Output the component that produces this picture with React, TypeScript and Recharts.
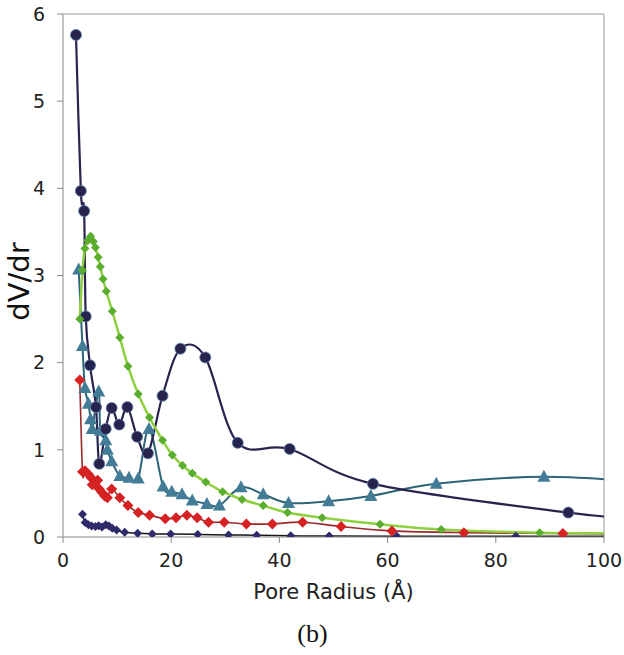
import React from 'react';
import { LineChart, Line, XAxis, YAxis, ReferenceLine, Label } from 'recharts';

// ---- Data (Pore radius in Å, dV/dr) ----
const circleX = [2.4, 3.3, 3.9, 4.2, 5.0, 6.1, 6.7, 7.9, 9.0, 10.4, 11.9, 13.7, 15.7, 18.4, 21.7, 26.3, 32.3, 41.9, 57.3, 93.4, 110];
const circleY = [5.76, 3.97, 3.74, 2.53, 1.97, 1.49, 0.84, 1.24, 1.48, 1.29, 1.49, 1.15, 0.96, 1.62, 2.16, 2.06, 1.08, 1.01, 0.61, 0.28, 0.19];

const triangleX = [2.9, 3.6, 4.05, 4.7, 5.1, 5.4, 6.6, 6.9, 7.9, 8.2, 9.0, 10.5, 12.2, 13.9, 15.9, 18.5, 20.1, 22.0, 23.9, 26.6, 28.9, 32.9, 37.0, 41.7, 49.1, 56.9, 69.0, 88.9, 110];
const triangleY = [3.07, 2.19, 1.71, 1.53, 1.35, 1.24, 1.67, 1.22, 1.11, 1.0, 0.87, 0.70, 0.68, 0.67, 1.24, 0.58, 0.52, 0.49, 0.42, 0.38, 0.36, 0.57, 0.49, 0.39, 0.41, 0.47, 0.61, 0.69, 0.62];

const greenX = [3.1, 3.6, 4.05, 4.55, 5.1, 5.6, 6.0, 6.5, 6.9, 7.4, 8.0, 9.1, 10.5, 12.0, 13.9, 16.0, 18.4, 20.2, 22.1, 23.9, 26.4, 29.5, 33.1, 37.0, 41.5, 47.9, 58.6, 69.9, 88.1, 110];
const greenY = [2.50, 3.06, 3.31, 3.40, 3.45, 3.39, 3.32, 3.21, 3.10, 2.96, 2.82, 2.59, 2.29, 1.96, 1.64, 1.37, 1.11, 0.94, 0.82, 0.73, 0.63, 0.52, 0.43, 0.36, 0.28, 0.22, 0.145, 0.086, 0.05, 0.04];

const redX = [3.1, 3.6, 4.05, 4.7, 5.2, 5.4, 5.9, 6.4, 6.7, 7.2, 7.7, 8.2, 9.0, 10.5, 12.0, 13.9, 16.0, 18.9, 20.9, 22.9, 24.8, 26.9, 29.8, 33.9, 38.7, 44.3, 51.4, 60.8, 74.1, 92.4, 110];
const redY = [1.80, 0.75, 0.76, 0.72, 0.68, 0.60, 0.61, 0.65, 0.55, 0.51, 0.47, 0.45, 0.55, 0.45, 0.36, 0.28, 0.25, 0.21, 0.22, 0.25, 0.22, 0.17, 0.17, 0.15, 0.15, 0.17, 0.12, 0.07, 0.05, 0.04, 0.03];

const navyDiamondX = [3.6, 4.1, 4.7, 5.3, 6.0, 6.6, 7.2, 7.9, 8.5, 9.1, 9.9, 11.4, 13.8, 16.5, 19.9, 24.9, 30.6, 35.8, 42.1, 49.2, 61.7, 83.7, 110];
const navyDiamondY = [0.26, 0.165, 0.14, 0.125, 0.12, 0.13, 0.115, 0.14, 0.125, 0.10, 0.08, 0.055, 0.042, 0.035, 0.033, 0.03, 0.023, 0.02, 0.013, 0.012, 0.01, 0.01, 0.01];

const xTicks = [0, 20, 40, 60, 80, 100];
const yTicks = [0, 1, 2, 3, 4, 5, 6];

const toRows = (xs: number[], ys: number[]) => xs.map((x, i) => ({ x, y: ys[i] }));
const circleData = toRows(circleX, circleY);
const triangleData = toRows(triangleX, triangleY);
const greenData = toRows(greenX, greenY);
const redData = toRows(redX, redY);
const navyDiamondData = toRows(navyDiamondX, navyDiamondY);

// Smooth curve (Catmull-Rom style, similar to Excel smoothed lines)
const smoothCurve = (context: any) => {
  let xs: number[] = [];
  let ys: number[] = [];
  return {
    areaStart() {},
    areaEnd() {},
    lineStart() {
      xs = [];
      ys = [];
    },
    lineEnd() {
      const n = xs.length;
      if (n === 0) return;
      context.moveTo(xs[0], ys[0]);
      if (n === 1) return;
      const k = 1 / 6;
      for (let i = 0; i < n - 1; i++) {
        const i0 = Math.max(i - 1, 0);
        const i3 = Math.min(i + 2, n - 1);
        context.bezierCurveTo(
          xs[i] + k * (xs[i + 1] - xs[i0]),
          ys[i] + k * (ys[i + 1] - ys[i0]),
          xs[i + 1] - k * (xs[i3] - xs[i]),
          ys[i + 1] - k * (ys[i3] - ys[i]),
          xs[i + 1],
          ys[i + 1]
        );
      }
    },
    point(x: number, y: number) {
      xs.push(+x);
      ys.push(+y);
    },
  };
};

const hidden = (p: any) => !p || p.cx == null || p.cy == null || (p.payload && p.payload.x > 100);

const circleDot = (p: any) =>
  hidden(p) ? <g key={`c-${p.index}`} /> : (
    <circle key={`c-${p.index}`} cx={p.cx} cy={p.cy} r={5.5} fill="#27234f" stroke="#5a7da0" strokeWidth={0.8} />
  );

const triangleDot = (p: any) =>
  hidden(p) ? <g key={`t-${p.index}`} /> : (
    <path
      key={`t-${p.index}`}
      d={`M${p.cx},${p.cy - 7} L${p.cx + 6.5},${p.cy + 5} L${p.cx - 6.5},${p.cy + 5} Z`}
      fill="#437c97"
    />
  );

const diamond = (color: string, h: number, prefix: string) => (p: any) =>
  hidden(p) ? <g key={`${prefix}-${p.index}`} /> : (
    <path
      key={`${prefix}-${p.index}`}
      d={`M${p.cx},${p.cy - h} L${p.cx + h},${p.cy} L${p.cx},${p.cy + h} L${p.cx - h},${p.cy} Z`}
      fill={color}
    />
  );

const fontFamily = '"DejaVu Sans", Verdana, sans-serif';

export default function App() {
  return (
    <div style={{ position: 'absolute', left: 0, top: 0, width: 624, height: 655, background: '#fff' }}>
      <LineChart width={624} height={655} margin={{ top: 14, right: 20, bottom: 78, left: 0 }}>
        <XAxis
          type="number"
          dataKey="x"
          domain={[0, 100]}
          allowDataOverflow
          ticks={xTicks}
          tickSize={6}
          tickMargin={11}
          height={40}
          stroke="#8a8a8a"
          tick={{ fill: '#222', fontSize: 19, fontFamily }}
        >
          <Label
            content={(props: any) => {
              const vb = props.viewBox || { x: 63, y: 537, width: 541 };
              return (
                <g>
                  <text
                    x={vb.x + vb.width / 2}
                    y={vb.y + 62}
                    textAnchor="middle"
                    fontSize={21}
                    fontFamily={fontFamily}
                    fill="#222"
                  >
                    Pore Radius (Å)
                  </text>
                  <text
                    x={vb.x + vb.width / 2 - 21}
                    y={vb.y + 105}
                    textAnchor="middle"
                    fontSize={26}
                    fontFamily='"Liberation Serif", "Times New Roman", serif'
                    fill="#111"
                  >
                    (b)
                  </text>
                </g>
              );
            }}
          />
        </XAxis>
        <YAxis
          type="number"
          dataKey="y"
          domain={[0, 6]}
          allowDataOverflow
          ticks={yTicks}
          tickSize={6}
          tickMargin={12}
          width={63}
          stroke="#8a8a8a"
          tick={{ fill: '#222', fontSize: 19, fontFamily }}
        >
          <Label
            content={(props: any) => {
              const vb = props.viewBox || { x: 0, y: 14, width: 63, height: 523 };
              const cx = vb.x + 29;
              const cy = vb.y + vb.height / 2 + 6;
              return (
                <text
                  x={cx}
                  y={cy}
                  transform={`rotate(-90 ${cx} ${cy})`}
                  textAnchor="middle"
                  fontSize={29}
                  fontFamily={fontFamily}
                  fill="#111"
                >
                  dV/dr
                </text>
              );
            }}
          />
        </YAxis>
        <ReferenceLine y={6} stroke="#9a9a9a" strokeWidth={1} />
        <ReferenceLine x={100} stroke="#9a9a9a" strokeWidth={1} />

        <Line
          data={navyDiamondData}
          dataKey="y"
          type={smoothCurve as any}
          stroke="#151515"
          strokeWidth={1.5}
          dot={diamond('#2e2b6b', 4.5, 'nd')}
          activeDot={false}
          isAnimationActive={false}
        />
        <Line
          data={redData}
          dataKey="y"
          type={smoothCurve as any}
          stroke="#9a2a2a"
          strokeWidth={1.6}
          dot={diamond('#d62222', 5.5, 'rd')}
          activeDot={false}
          isAnimationActive={false}
        />
        <Line
          data={triangleData}
          dataKey="y"
          type={smoothCurve as any}
          stroke="#2e6477"
          strokeWidth={2}
          dot={triangleDot}
          activeDot={false}
          isAnimationActive={false}
        />
        <Line
          data={circleData}
          dataKey="y"
          type={smoothCurve as any}
          stroke="#29244f"
          strokeWidth={2.2}
          dot={circleDot}
          activeDot={false}
          isAnimationActive={false}
        />
        <Line
          data={greenData}
          dataKey="y"
          type={smoothCurve as any}
          stroke="#8fd040"
          strokeWidth={2.5}
          dot={diamond('#5aad2d', 4.5, 'gd')}
          activeDot={false}
          isAnimationActive={false}
        />
      </LineChart>
    </div>
  );
}
